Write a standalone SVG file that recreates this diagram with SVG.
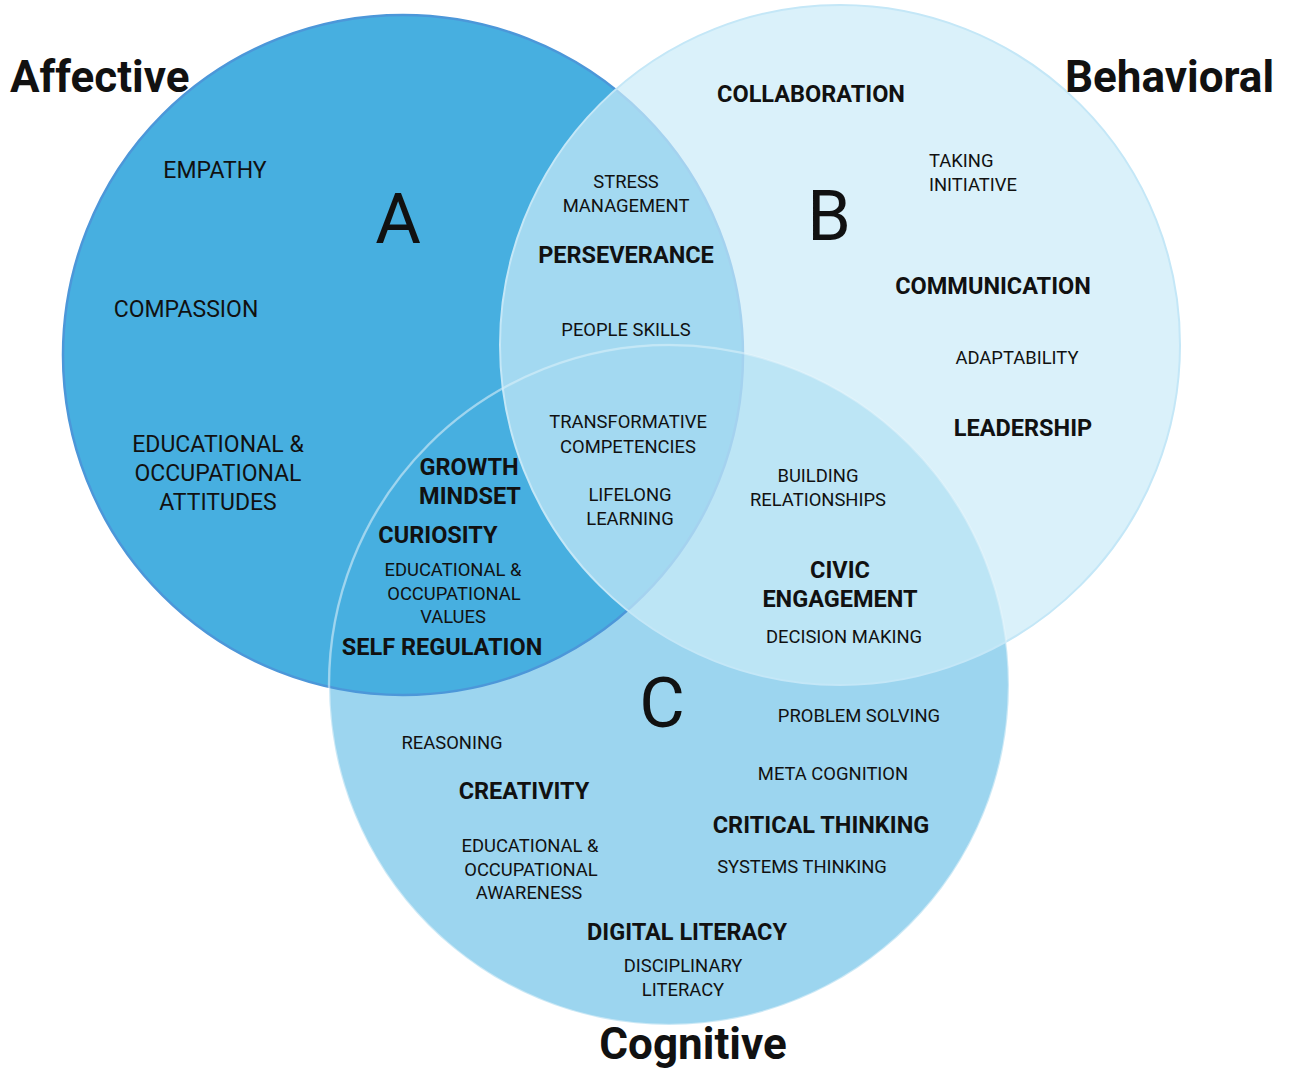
<svg xmlns="http://www.w3.org/2000/svg" width="1290" height="1070" viewBox="0 0 1290 1070">
<style>
text{font-family:Roboto,"Liberation Sans",sans-serif;fill:#111;text-anchor:middle}
.t{font-size:44px;font-weight:700}
.L{font-size:70px;font-weight:400}
.m{font-size:23px}
.s{font-size:18.4px}
.b{font-size:23.5px;font-weight:700}
.st{text-anchor:start}
</style>
<rect width="1290" height="1070" fill="#fff"/>
<g id="circles">
<circle id="circle-C" cx="669" cy="685" r="340" fill="#9CD5EF"/>
<circle id="circle-A" cx="403" cy="355" r="340" fill="#47AFE0" stroke="#4C97D9" stroke-width="2.5"/>
<circle id="circle-C-edge" cx="669" cy="685" r="340" fill="none" stroke="#fff" stroke-opacity="0.35" stroke-width="2.5"/>
<circle id="circle-B" cx="840" cy="345" r="340" fill="#CAEBF8" fill-opacity="0.7"/>
<circle id="circle-B-edge" cx="840" cy="345" r="340" fill="none" stroke="#C4E7F7" stroke-width="2"/>
<circle id="circle-C-edge2" cx="669" cy="685" r="340" fill="none" stroke="#fff" stroke-opacity="0.2" stroke-width="2"/>
</g>
<g id="node-affective">
<text class="t st" x="10" y="92">Affective</text>
<text class="L" x="398" y="243">A</text>
<text class="m" x="215" y="178">EMPATHY</text>
<text class="m" x="186" y="317">COMPASSION</text>
<text class="m" x="218" y="452">EDUCATIONAL &amp;</text>
<text class="m" x="218" y="481">OCCUPATIONAL</text>
<text class="m" x="218" y="510">ATTITUDES</text>
</g>
<g id="node-behavioral">
<text class="t st" x="1065" y="92">Behavioral</text>
<text class="L" x="829" y="240">B</text>
<text class="b" x="811" y="102">COLLABORATION</text>
<text class="s st" x="929" y="167">TAKING</text>
<text class="s st" x="929" y="191">INITIATIVE</text>
<text class="b" x="993" y="294">COMMUNICATION</text>
<text class="s" x="1017" y="364">ADAPTABILITY</text>
<text class="b" x="1023" y="436">LEADERSHIP</text>
</g>
<g id="node-cognitive">
<text class="t" x="693" y="1059">Cognitive</text>
<text class="L" x="662" y="727">C</text>
<text class="s" x="859" y="722">PROBLEM SOLVING</text>
<text class="s" x="452" y="749">REASONING</text>
<text class="s" x="833" y="780">META COGNITION</text>
<text class="b" x="524" y="799">CREATIVITY</text>
<text class="b" x="821" y="833">CRITICAL THINKING</text>
<text class="s" x="530" y="852">EDUCATIONAL &amp;</text>
<text class="s" x="531" y="876">OCCUPATIONAL</text>
<text class="s" x="529" y="899">AWARENESS</text>
<text class="s" x="802" y="873">SYSTEMS THINKING</text>
<text class="b" x="687" y="940">DIGITAL LITERACY</text>
<text class="s" x="683" y="972">DISCIPLINARY</text>
<text class="s" x="683" y="996">LITERACY</text>
</g>
<g id="node-affective-behavioral">
<text class="s" x="626" y="188">STRESS</text>
<text class="s" x="626" y="212">MANAGEMENT</text>
<text class="b" x="626" y="263">PERSEVERANCE</text>
<text class="s" x="626" y="336">PEOPLE SKILLS</text>
</g>
<g id="node-all">
<text class="s" x="628" y="428">TRANSFORMATIVE</text>
<text class="s" x="628" y="453">COMPETENCIES</text>
<text class="s" x="630" y="501">LIFELONG</text>
<text class="s" x="630" y="525">LEARNING</text>
</g>
<g id="node-affective-cognitive">
<text class="b" x="469" y="475">GROWTH</text>
<text class="b" x="470" y="504">MINDSET</text>
<text class="b" x="438" y="543">CURIOSITY</text>
<text class="s" x="453" y="576">EDUCATIONAL &amp;</text>
<text class="s" x="454" y="600">OCCUPATIONAL</text>
<text class="s" x="453" y="623">VALUES</text>
<text class="b" x="442" y="655">SELF REGULATION</text>
</g>
<g id="node-behavioral-cognitive">
<text class="s" x="818" y="482">BUILDING</text>
<text class="s" x="818" y="506">RELATIONSHIPS</text>
<text class="b" x="840" y="578">CIVIC</text>
<text class="b" x="840" y="607">ENGAGEMENT</text>
<text class="s" x="844" y="643">DECISION MAKING</text>
</g>
</svg>
